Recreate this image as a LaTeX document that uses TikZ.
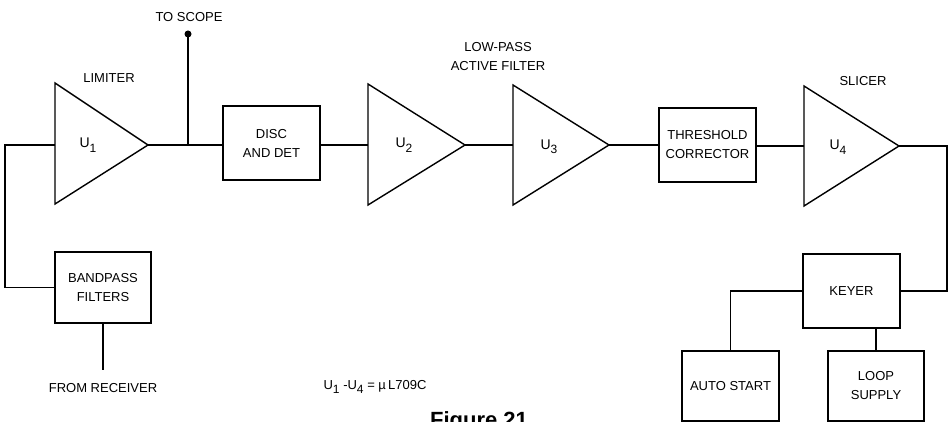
\documentclass[tikz,border=0pt]{standalone}
\usepackage{fontspec}
\setmainfont{Liberation Sans}
\usetikzlibrary{calc}
\tikzset{
  wire/.style={line width=1.4pt, line join=miter},
  blk/.style={draw, line width=1.4pt, rectangle, inner sep=0pt, align=center,
     font=\fontsize{13}{19}\selectfont},
  lbl/.style={inner sep=0pt, align=center, font=\fontsize{13}{19}\selectfont},
  amp/.style={draw, line width=1.4pt, line join=miter}
}
\newcommand{\Usub}[1]{U\raisebox{-0.6ex}{\fontsize{12}{12}\selectfont #1}}
\begin{document}
\begin{tikzpicture}[x=1pt,y=-1pt]
\useasboundingbox (0,0) rectangle (948,422);
% amplifier triangles
\coordinate (t1a) at (148,145); \coordinate (t1b) at (55,145);
\coordinate (t2a) at (465,145); \coordinate (t2b) at (368,145);
\coordinate (t3a) at (609,145); \coordinate (t3b) at (513,145);
\coordinate (t4a) at (899,146); \coordinate (t4b) at (804,146);
\draw[amp] (55,83) -- (t1a) -- (55,204) -- cycle;
\draw[amp] (368,84) -- (t2a) -- (368,205) -- cycle;
\draw[amp] (513,85) -- (t3a) -- (513,205) -- cycle;
\draw[amp] (804,86) -- (t4a) -- (804,206) -- cycle;
\node[lbl, font=\fontsize{14}{19}\selectfont] (u1) at (88,145) {\Usub{1}};
\node[lbl, font=\fontsize{14}{19}\selectfont] (u2) at (404,145) {\Usub{2}};
\node[lbl, font=\fontsize{14}{19}\selectfont] (u3) at (549,147) {\Usub{3}};
\node[lbl, font=\fontsize{14}{19}\selectfont] (u4) at (838,147) {\Usub{4}};
% labels
\node[lbl] (lim) at (109,78) {LIMITER};
\node[lbl] (scope) at (189,17) {TO SCOPE};
\node[lbl] (lp) at (498,57) {LOW-PASS\\ACTIVE FILTER};
\node[lbl] (sl) at (863,81) {SLICER};
\node[lbl] (rx) at (103,388) {FROM RECEIVER};
\node[lbl] (eq) at (375,387) {\Usub{1} -\Usub{4} = \textmu\,L709C};
\node[inner sep=0pt, anchor=north, font=\fontsize{22}{22}\selectfont\bfseries] (fig) at (479,411) {Figure 21};
% boxes
\node[blk, minimum width=97pt, minimum height=74pt] (disc) at (271.5,143) {DISC\\AND DET};
\node[blk, minimum width=97pt, minimum height=74pt] (thr) at (707.5,145) {THRESHOLD\\CORRECTOR};
\node[blk, minimum width=96pt, minimum height=71pt] (bp) at (103,287.5) {BANDPASS\\FILTERS};
\node[blk, minimum width=97pt, minimum height=74pt] (key) at (851.5,291) {KEYER};
\node[blk, minimum width=97pt, minimum height=70pt] (auto) at (730.5,386) {AUTO START};
\node[blk, minimum width=96pt, minimum height=70pt] (loop) at (876,386) {LOOP\\SUPPLY};
% connectors
\coordinate (jn) at (188,145);
\coordinate (dot) at (188,34);
\coordinate (rxend) at (103,370);
\coordinate (rc) at (947,146);
\coordinate (lc) at (5,145);
\draw[wire] (t1a) -- (disc.west |- t1a);
\draw[wire] (jn) -- (dot);
\fill (dot) circle (3.5pt);
\draw[wire] (disc.east |- t2b) -- (t2b);
\draw[wire] (t2a) -- (t3b);
\draw[wire] (t3a) -- (thr.west);
\draw[wire] (thr.east |- t4b) -- (t4b);
\draw[wire] (t4a) -- (rc) |- (key.east);
\draw[wire] (key.west) -| (auto.north);
\draw[wire] (loop.north) -- (loop.north |- key.south);
\draw[wire] (t1b) -- (lc) |- (bp.west);
\draw[wire] (bp.south) -- (rxend);
\end{tikzpicture}
\end{document}
